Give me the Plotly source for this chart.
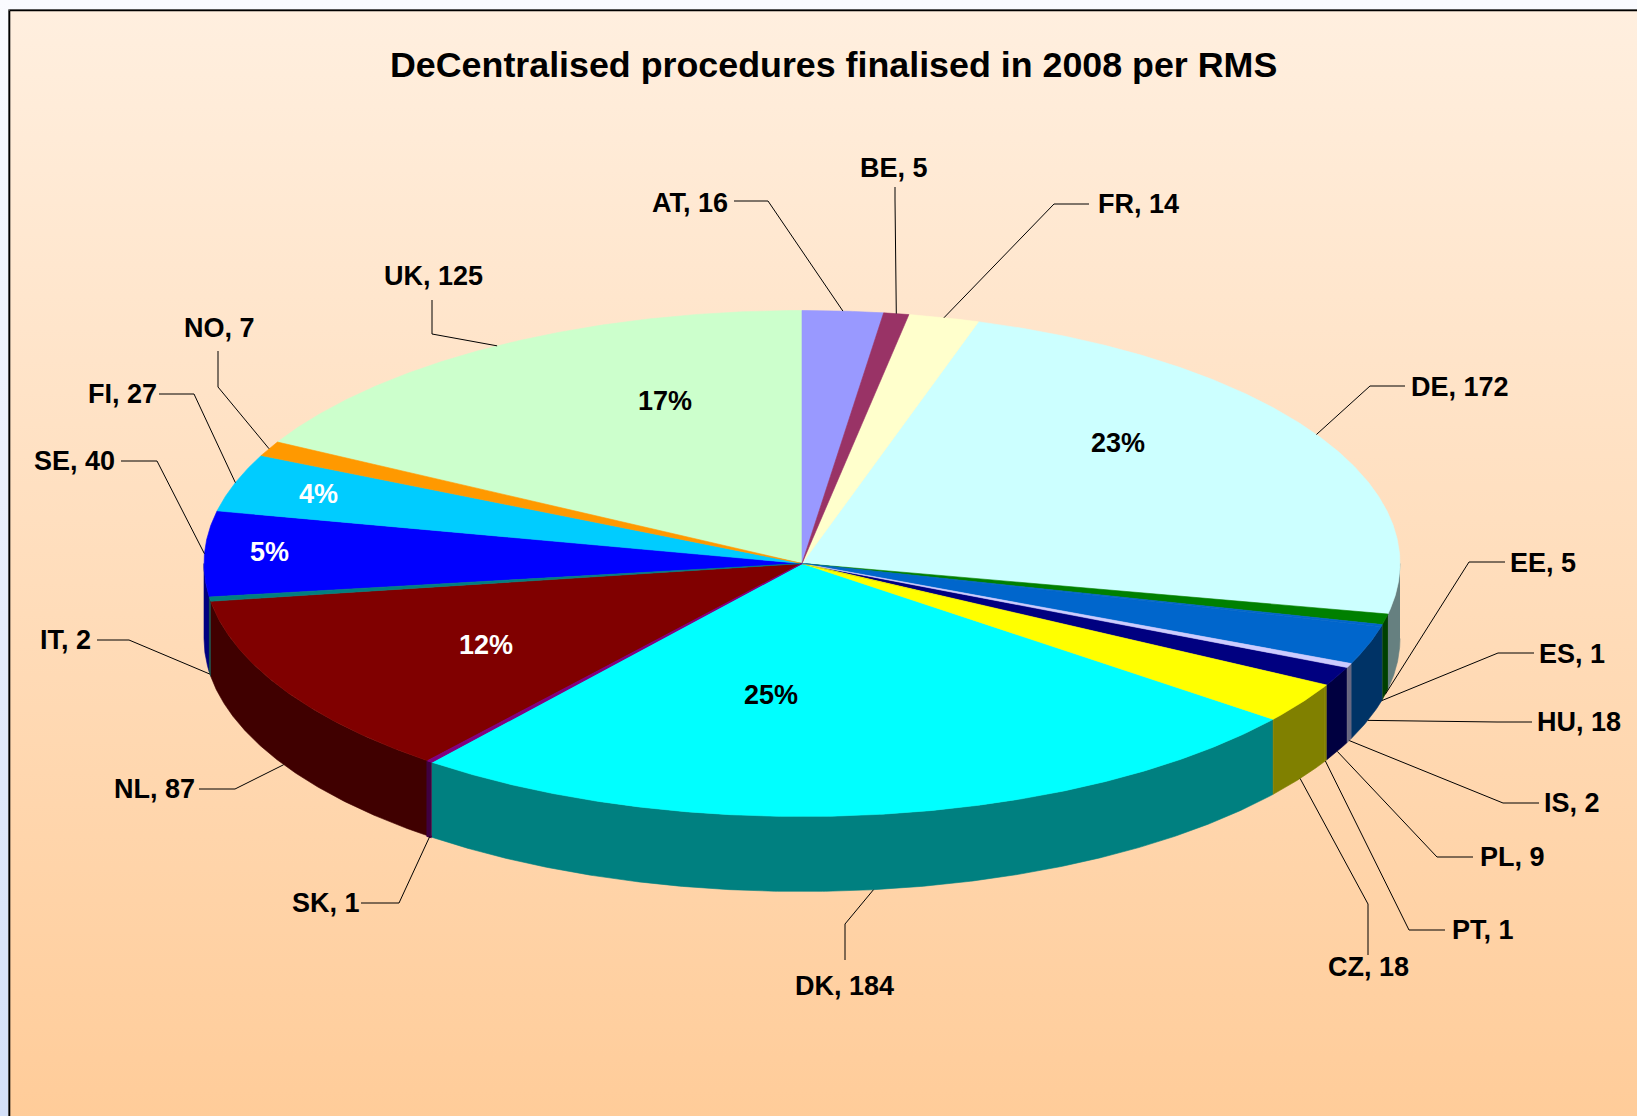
import numpy as np
import plotly.graph_objects as go

# ---- data ----
rms = ["AT","BE","FR","DE","EE","ES","HU","IS","PL","PT","CZ","DK","SK","NL","IT","SE","FI","NO","UK"]
procedures = [16,5,14,172,5,1,18,2,9,1,18,184,1,87,2,40,27,7,125]
percent_shown = ["UK","DE","DK","NL","SE","FI"]

# ---- styles ----
top_colors = ["#9999FF","#993366","#FFFFCC","#CCFFFF","#008000","#0066CC","#0066CC","#CCCCFF","#000080",
              "#FFFF00","#FFFF00","#00FFFF","#800080","#800000","#008080","#0000FF","#00CCFF","#FF9900","#CCFFCC"]
side_colors = ["#4D4D80","#4D1A33","#808066","#668080","#004000","#003366","#003366","#666680","#000040",
               "#808000","#808000","#008080","#400040","#400000","#004040","#000080","#006680","#804D00","#668066"]
side_outline = {"SK": 2.5}
top_outline = {"SK": 1.2}
CX, CY, RX, RY, DEPTH = 802.0, 563.5, 598.0, 253.0, 75.0
W, H = 1637, 1116
FONT = "Liberation Sans"
LABEL_SIZE = 27
LABEL_DX, LABEL_DY = -2, 0.4

# label anchor (left x, centre y) and the two fixed leader points on the label side
label_layout = {
    "AT": (652,203,[(734,201),(768,201)]),
    "BE": (860,168,[(895,187),(895,200)]),
    "FR": (1098,204,[(1089,204),(1054,204)]),
    "DE": (1411,387,[(1405,386),(1370,386)]),
    "EE": (1510,563,[(1505,562),(1469,562)]),
    "ES": (1539,654,[(1534,653),(1498,653)]),
    "HU": (1537,722,[(1532,722),(1497,722)]),
    "IS": (1544,803,[(1539,803),(1503,803)]),
    "PL": (1480,857,[(1473,857),(1437,857)]),
    "PT": (1452,930,[(1445,930),(1409,930)]),
    "CZ": (1328,967,[(1368,955),(1368,904)]),
    "DK": (795,986,[(845,960),(845,924)]),
    "SK": (292,903,[(361,903),(399,903)]),
    "NL": (114,789,[(199,789),(235,789)]),
    "IT": (40,640,[(97,640),(129,640)]),
    "SE": (34,461,[(121,461),(157,461)]),
    "FI": (88,394,[(159,394),(194,394)]),
    "NO": (184,328,[(218,351),(218,387)]),
    "UK": (384,276,[(432,300),(432,334)]),
}
percent_layout = {"UK":(665,400.5,"#000000"),"DE":(1118,442.5,"#000000"),"DK":(771,694.5,"#000000"),
                  "NL":(486,644.5,"#FFFFFF"),"SE":(269,551.5,"#FFFFFF"),"FI":(318,493.5,"#FFFFFF")}

# ---- geometry derived from the values ----
vals = np.array(procedures, float)
total = vals.sum()
edges = np.concatenate([[0], np.cumsum(vals)]) / total * 2*np.pi

def ex(t): return CX + RX*np.sin(t)
def ey(t): return CY - RY*np.cos(t)

fig = go.Figure()

def rect(x0,y0,x1,y1,stops,line=None):
    fig.add_trace(go.Scatter(x=[x0,x1,x1,x0,x0],y=[y0,y0,y1,y1,y0],mode="lines",fill="toself",
        line=line or dict(width=0),
        fillgradient=dict(type="vertical",colorscale=stops),hoverinfo="skip",showlegend=False))

rect(0,0,W,H,[[0,"#D4E0F8"],[1,"#FAFBFF"]])
fig.add_trace(go.Scatter(x=[8.5,8.5,W+5],y=[H+5,9.5,9.5],mode="lines",
    line=dict(color="#777777",width=1),hoverinfo="skip",showlegend=False))
rect(9.5,10.5,W+5,H+5,[[0,"#FFCC99"],[1,"#FFEFDF"]],dict(color="#000000",width=1.6))

order = np.argsort(-vals)
# sides (front half of the disc only)
for i in order:
    a,b = max(edges[i],np.pi/2), min(edges[i+1],1.5*np.pi)
    if b <= a: continue
    t = np.linspace(a,b,max(3,int((b-a)/0.005)))
    xs = np.concatenate([ex(t),ex(t[::-1])])
    ys = np.concatenate([ey(t),ey(t[::-1])+DEPTH])
    fig.add_trace(go.Scatter(x=xs,y=ys,mode="lines",fill="toself",fillcolor=side_colors[i],
        line=dict(color=side_colors[i],width=side_outline.get(rms[i],0.6)),hoverinfo="skip",showlegend=False))
# top faces
for i in order:
    a,b = edges[i],edges[i+1]
    t = np.linspace(a,b,max(3,int((b-a)/0.005)))
    xs = np.concatenate([[CX],ex(t),[CX]])
    ys = np.concatenate([[CY],ey(t),[CY]])
    fig.add_trace(go.Scatter(x=xs,y=ys,mode="lines",fill="toself",fillcolor=top_colors[i],
        line=dict(color=top_colors[i],width=top_outline.get(rms[i],0.6)),hoverinfo="skip",showlegend=False,name=rms[i]))

# leaders + labels
ann=[]
for i,r in enumerate(rms):
    lx,ly,pts = label_layout[r]
    mid = (edges[i]+edges[i+1])/2
    ex_end, ey_end = ex(mid), ey(mid) + (DEPTH if np.pi/2<mid<1.5*np.pi else 0)
    fig.add_trace(go.Scatter(x=[p[0] for p in pts]+[ex_end],y=[p[1] for p in pts]+[ey_end],mode="lines",
        line=dict(color="#000000",width=1),hoverinfo="skip",showlegend=False))
    ann.append(dict(x=lx+LABEL_DX,y=ly+LABEL_DY,xref="x",yref="y",text=f"<b>{r}, {procedures[i]}</b>",showarrow=False,
        xanchor="left",yanchor="middle",font=dict(family=FONT,size=LABEL_SIZE,color="#000000")))
for r in percent_shown:
    i = rms.index(r); x,y,c = percent_layout[r]
    ann.append(dict(x=x,y=y,xref="x",yref="y",text=f"<b>{round(procedures[i]/total*100)}%</b>",showarrow=False,
        xanchor="center",yanchor="middle",font=dict(family=FONT,size=LABEL_SIZE,color=c)))
ann.append(dict(x=833,y=65,xref="x",yref="y",text="<b>DeCentralised procedures finalised in 2008 per RMS</b>",
    showarrow=False,xanchor="center",yanchor="middle",font=dict(family=FONT,size=35.8,color="#000000")))

fig.update_layout(width=W,height=H,margin=dict(l=0,r=0,t=0,b=0),autosize=False,
    paper_bgcolor="#FFFFFF",plot_bgcolor="#FFFFFF",showlegend=False,annotations=ann,
    xaxis=dict(range=[0,W],visible=False,fixedrange=True),
    yaxis=dict(range=[H,0],visible=False,fixedrange=True))
fig.write_html("out.html",config={"displayModeBar":False},
    post_script="document.body.style.margin='0';document.body.style.overflow='hidden';")
